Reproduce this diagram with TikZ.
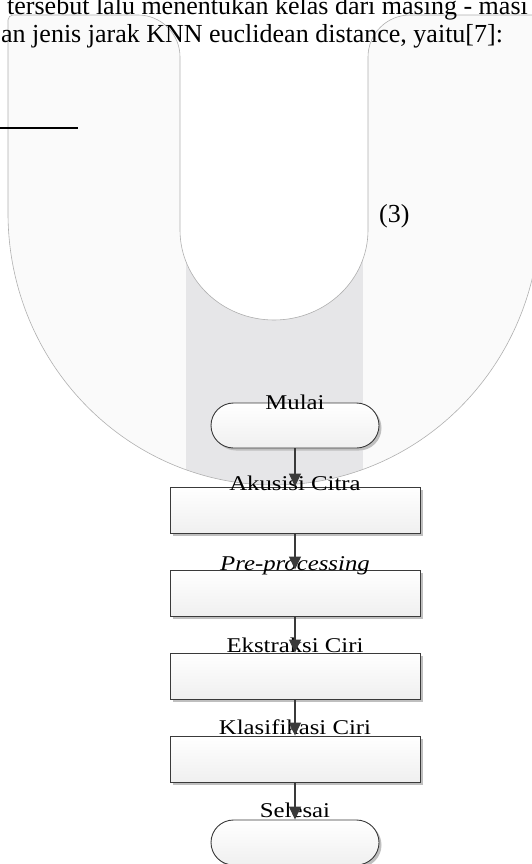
\documentclass[tikz,border=0pt]{standalone}
\usepackage{fontspec}
\setmainfont{Liberation Serif}
\newfontfamily\flowfont[FakeStretch=1.18]{Liberation Serif}
\usetikzlibrary{arrows.meta,shadows}
\definecolor{ufill}{HTML}{FAFAFA}
\definecolor{uline}{HTML}{B0B0B0}
\definecolor{bandgray}{HTML}{E6E6E8}
\definecolor{flowline}{HTML}{3A3A3A}
% outline of the big U behind the flowchart
\newcommand\upath{(8,213) -- (8,20) arc[start angle=180,end angle=270,radius=5]
  -- (138,15) arc[start angle=270,end angle=360,radius=42]
  -- (180,230) arc[start angle=180,end angle=0,x radius=94,y radius=90]
  -- (368,57) arc[start angle=180,end angle=270,radius=42]
  -- (535,15) arc[start angle=270,end angle=360,radius=5]
  -- (540,213) arc[start angle=0,end angle=180,x radius=266,y radius=272] -- cycle}
\tikzset{
  bodytext/.style={font=\fontsize{26}{28}\selectfont, anchor=base west, inner sep=0pt},
  process/.style={draw=flowline, line width=0.9pt, minimum width=250pt, minimum height=46pt,
    top color=white, bottom color=gray!12,
    drop shadow={shadow xshift=2.5pt, shadow yshift=-2.5pt, fill=gray!50, opacity=1}},
  terminal/.style={process, minimum width=168pt, minimum height=45pt, rounded corners=22.5pt},
  flowlabel/.style={font=\flowfont\fontsize{21}{24}\selectfont, anchor=base, inner sep=0pt},
  flow/.style={draw=flowline, line width=1.2pt,
    -{Triangle[width=12pt,length=13pt,fill=flowline]}}
}
\begin{document}
\begin{tikzpicture}[x=1pt,y=-1pt]
\useasboundingbox (0,0) rectangle (532,864);
% background U and its grey band
\fill[ufill] \upath;
\begin{scope}
  \clip \upath;
  \fill[bandgray] (186,0) rectangle (363,500);
\end{scope}
\draw[uline, line width=0.6pt] \upath;
% running text
\node[bodytext] (line1) at (7,15) {tersebut lalu menentukan kelas dari masing - masi};
\node[bodytext] (line2) at (1,43) {an jenis jarak KNN euclidean distance, yaitu[7]:};
\draw[line width=1.3pt] (0,128) -- (78,128);
\node[bodytext] (eqno) at (379,222) {(3)};
% flowchart
\node[terminal] (mulai) at (295,425.5) {};
\node[process] (akusisi) at (295,510) {};
\node[process] (prepro) at (295,593) {};
\node[process] (ekstraksi) at (295,676) {};
\node[process] (klasifikasi) at (295,759) {};
\node[terminal] (selesai) at (295,842.5) {};
\node[flowlabel] (tMulai) at (295,409) {Mulai};
\node[flowlabel] (tAkusisi) at (295,490) {Akusisi Citra};
\node[flowlabel] (tPrepro) at (295,570) {\itshape Pre-processing};
\node[flowlabel] (tEkstraksi) at (295,652) {Ekstraksi Ciri};
\node[flowlabel] (tKlasifikasi) at (295,734) {Klasifikasi Ciri};
\node[flowlabel] (tSelesai) at (295,817) {Selesai};
\draw[flow] (mulai) -- (akusisi);
\draw[flow] (akusisi) -- (prepro);
\draw[flow] (prepro) -- (ekstraksi);
\draw[flow] (ekstraksi) -- (klasifikasi);
\draw[flow] (klasifikasi) -- (selesai);
\end{tikzpicture}
\end{document}
